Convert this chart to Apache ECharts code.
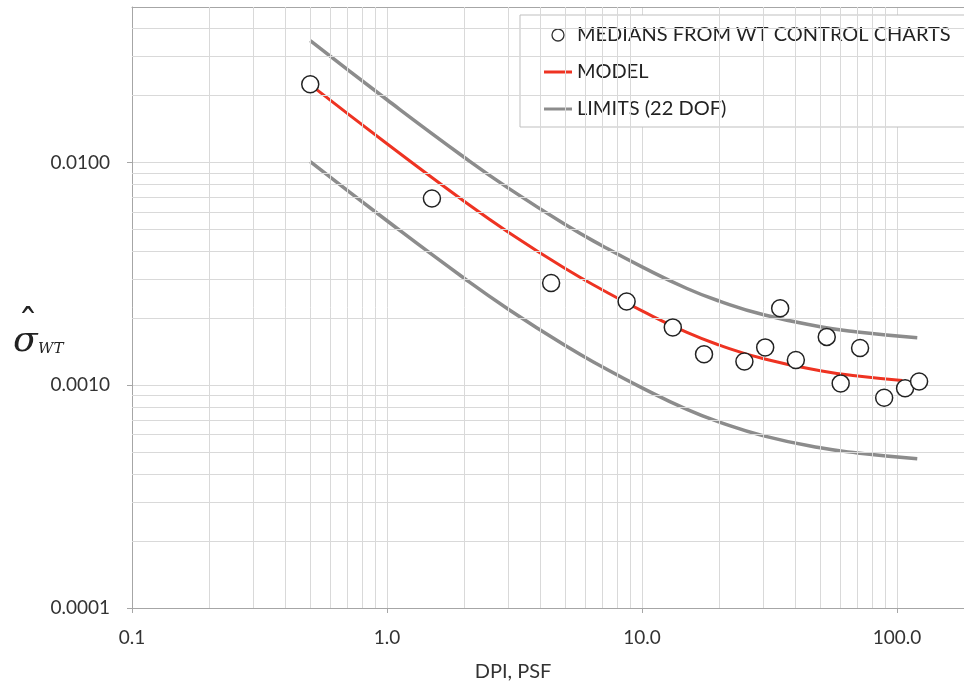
<!DOCTYPE html>
<html>
<head>
<meta charset="utf-8">
<script src="https://cdn.jsdelivr.net/npm/echarts@6/dist/echarts.min.js"></script>
<style>
  html, body { margin: 0; background: #fff; }
  #main { width: 964px; height: 689px; }
</style>
</head>
<body>
<div id="main"></div>
<script>
// 风洞控制图中位数（散点）
let medianX = [0.5, 1.5, 4.4, 8.7, 13.2, 17.5, 25.2, 30.4, 34.8, 40.1, 53, 60.1, 71.6, 89, 107.5, 122]
let medianY = [0.0225, 0.0069, 0.00288, 0.00238, 0.00182, 0.00138, 0.00128, 0.00148, 0.00222, 0.0013, 0.00165, 0.00102, 0.00147, 0.00088, 0.00097, 0.00104]

// 模型曲线
let modelX = [0.5, 1, 2, 3, 5, 7, 10, 15, 20, 30, 50, 70, 105]
let modelY = [0.02241, 0.01216, 0.006729, 0.004861, 0.003344, 0.002681, 0.002159, 0.001727, 0.001519, 0.001316, 0.001163, 0.001102, 0.001052]

// 上下限 (22 DOF)
let limitX = [0.5, 1, 2, 3, 5, 7, 10, 15, 20, 30, 50, 70, 120]
let upperY = [0.03532, 0.01916, 0.010605, 0.007661, 0.00527, 0.004225, 0.003403, 0.002722, 0.002394, 0.002074, 0.001833, 0.001737, 0.001636]
let lowerY = [0.010105, 0.005483, 0.003034, 0.002192, 0.001508, 0.001209, 0.000974, 0.000779, 0.000685, 0.000593, 0.000524, 0.000497, 0.000468]

// 坐标刻度
let xDecades = [0.1, 1, 10, 100]
let yDecades = [0.0001, 0.001, 0.01]
let gridMult = [2, 3, 4, 5, 6, 7, 8, 9]
let xMin = 0.1, xMax = 183
let yMin = 0.0001, yMax = 0.05

let NAME_MED = 'MEDIANS FROM WT CONTROL CHARTS'
let NAME_MODEL = 'MODEL'
let NAME_LIMIT = 'LIMITS (22 DOF)'
let FONT = 'Lato'
let LINE_ICON = 'path://M0 0H28V3H0Z'

let zip = (xs, ys) => xs.map((x, i) => [x, ys[i]])

// 次网格线（两端坐标，避免 log 轴取值被截断）
let minorLines = []
xDecades.forEach((d) => {
  gridMult.forEach((m) => {
    let v = d * m
    if (v < xMax) minorLines.push([{ coord: [v, yMin] }, { coord: [v, yMax] }])
  })
})
yDecades.forEach((d) => {
  gridMult.forEach((m) => {
    let v = d * m
    if (v < yMax) minorLines.push([{ coord: [xMin, v] }, { coord: [xMax, v] }])
  })
})

let chart = echarts.init(document.getElementById('main'), null, { renderer: 'canvas' })

let axisCommon = {
  type: 'log',
  logBase: 10,
  axisLine: { show: true, lineStyle: { color: '#a6a6a6', width: 1 } },
  axisTick: { show: true, length: 5, lineStyle: { color: '#a6a6a6' } },
  splitLine: { show: true, lineStyle: { color: '#d9d9d9', width: 1 } },
}

let lineSeries = (name, xs, ys, color, width, z) => ({
  name,
  type: 'line',
  data: zip(xs, ys),
  smooth: 0.5,
  symbol: 'none',
  color,
  lineStyle: { color, width },
  z,
})

chart.setOption({
  animation: false,
  backgroundColor: '#fff',
  grid: { left: 132, right: 0, top: 7, bottom: 81, containLabel: false },
  xAxis: [
    Object.assign({}, axisCommon, {
      min: xMin,
      max: xMax,
      axisLabel: {
        formatter: (v) => v.toFixed(1),
        showMaxLabel: false,
        fontFamily: FONT,
        fontSize: 19,
        color: '#333',
        margin: 20,
      },
    }),
    {
      // 顶部边框
      type: 'log',
      position: 'top',
      min: xMin,
      max: xMax,
      axisLine: { show: true, lineStyle: { color: '#a6a6a6', width: 1 } },
      axisTick: { show: false },
      axisLabel: { show: false },
      splitLine: { show: false },
    },
  ],
  yAxis: Object.assign({}, axisCommon, {
    min: yMin,
    max: yMax,
    axisLabel: {
      formatter: (v) => v.toFixed(4),
      showMaxLabel: false,
      fontFamily: FONT,
      fontSize: 19,
      color: '#333',
      margin: 22,
    },
  }),
  legend: {
    left: 520,
    top: 15,
    orient: 'vertical',
    backgroundColor: '#fff',
    borderColor: '#bfbfbf',
    borderWidth: 1,
    padding: [10, 15, 8, 24],
    itemWidth: 28,
    itemHeight: 12,
    itemGap: 17,
    textStyle: { fontFamily: FONT, fontSize: 20, color: '#222', lineHeight: 20 },
    data: [
      { name: NAME_MED, icon: 'circle', itemStyle: { color: '#fff', borderColor: '#333', borderWidth: 1.3 } },
      { name: NAME_MODEL, icon: LINE_ICON, itemStyle: { color: '#ee3322', borderWidth: 0 } },
      { name: NAME_LIMIT, icon: LINE_ICON, itemStyle: { color: '#8c8c8c', borderWidth: 0 } },
    ],
  },
  graphic: [
    { type: 'text', left: 13, top: 324, style: { text: 'σ', font: 'italic 36px "DejaVu Serif"', fill: '#222' } },
    { type: 'text', left: 18, top: 307, style: { text: 'ˆ', font: '40px "DejaVu Serif"', fill: '#222' } },
    { type: 'text', left: 38, top: 342, style: { text: 'WT', font: 'italic 15px "DejaVu Serif"', fill: '#222' } },
    {
      type: 'text',
      x: 513,
      y: 672,
      style: { text: 'DPI, PSF', font: '20px Lato', fill: '#333', align: 'center', verticalAlign: 'middle' },
    },
  ],
  series: [
    {
      // 网格
      name: 'grid',
      type: 'line',
      data: [],
      z: 0,
      silent: true,
      markLine: {
        silent: true,
        symbol: ['none', 'none'],
        label: { show: false },
        lineStyle: { color: '#d9d9d9', width: 1, type: 'solid' },
        emphasis: { disabled: true },
        animation: false,
        data: minorLines,
      },
    },
    lineSeries(NAME_LIMIT, limitX, upperY, '#8c8c8c', 3.5, 2),
    lineSeries(NAME_LIMIT, limitX, lowerY, '#8c8c8c', 3.5, 2),
    lineSeries(NAME_MODEL, modelX, modelY, '#ee3322', 3, 3),
    {
      name: NAME_MED,
      type: 'scatter',
      data: zip(medianX, medianY),
      symbol: 'circle',
      symbolSize: 17,
      itemStyle: { color: '#fff', borderColor: '#222', borderWidth: 1.5, opacity: 1 },
      z: 5,
    },
  ],
})
</script>
</body>
</html>
